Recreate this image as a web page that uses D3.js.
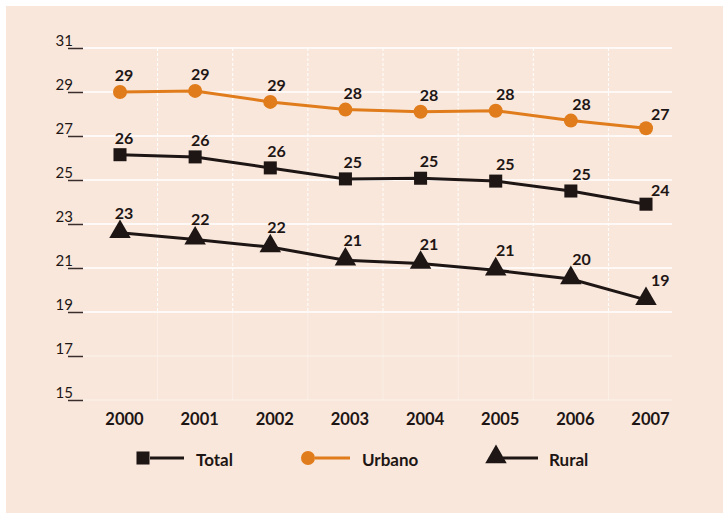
<!DOCTYPE html>
<html><head><meta charset="utf-8">
<script src="https://cdn.jsdelivr.net/npm/d3@7"></script>
<style>html,body{margin:0;padding:0;background:#fff;}svg{display:block;}</style>
</head><body>
<script>
const years = ["2000","2001","2002","2003","2004","2005","2006","2007"];
const urbano = [29.0, 29.05, 28.55, 28.2, 28.1, 28.15, 27.7, 27.35];
const total  = [26.15, 26.05, 25.55, 25.05, 25.08, 24.95, 24.5, 23.9];
const rural  = [22.6, 22.3, 21.95, 21.35, 21.2, 20.9, 20.5, 19.55];
const urbanoLabels = ["29","29","29","28","28","28","28","27"];
const totalLabels  = ["26","26","26","25","25","25","25","24"];
const ruralLabels  = ["23","22","22","21","21","21","20","19"];
const yTicks = [15,17,19,21,23,25,27,29,31];
const seriesNames = ["Total","Urbano","Rural"];

const W = 723, H = 513;
const bg = "#f9e7db", ink = "#1e1615", orange = "#e07c1b";
const font = "Lato, 'Open Sans', sans-serif";

const svg = d3.select("body").append("svg").attr("width", W).attr("height", H);
svg.append("rect").attr("x",6).attr("y",6).attr("width",W-6).attr("height",H-6).attr("fill",bg);

const x = d3.scalePoint().domain(years).range([120, 646]);
const y = d3.scaleLinear().domain([15,31]).range([400, 48]);
const gridL = 83, gridR = 672;
const step = x.step();

// horizontal gridlines
svg.append("g").selectAll("line").data(yTicks).join("line")
  .attr("x1", gridL).attr("x2", gridR)
  .attr("y1", d=>y(d)).attr("y2", d=>y(d))
  .attr("stroke", "#fff").attr("stroke-width", 1.5)
  .attr("opacity", d=> d>=19 ? 1 : 0.35);

// vertical dashed gridlines between categories
svg.append("g").selectAll("line").data(years.slice(1)).join("line")
  .attr("x1", d=>x(d)-step/2).attr("x2", d=>x(d)-step/2)
  .attr("y1", y(31)).attr("y2", y(19))
  .attr("stroke", "#fff").attr("stroke-width", 1).attr("stroke-dasharray","3,2");
svg.append("g").selectAll("line").data(years.slice(1)).join("line")
  .attr("x1", d=>x(d)-step/2).attr("x2", d=>x(d)-step/2)
  .attr("y1", y(19)).attr("y2", y(15))
  .attr("stroke", "#fff").attr("stroke-width", 1).attr("opacity",0.35);

// y axis ticks
const yAxis = d3.axisLeft(y).tickValues(yTicks).tickSize(0).tickFormat(d3.format("d"));
const ya = svg.append("g").attr("transform", `translate(${gridL},0)`).call(yAxis);
ya.select(".domain").remove();
ya.selectAll(".tick text").attr("x", -10).attr("dy", "-0.15em")
  .attr("font-family", font).attr("font-size", 15).attr("fill", ink).attr("text-anchor","end");
ya.selectAll(".tick").append("line").attr("x1",-15).attr("x2",0).attr("y1",0).attr("y2",0)
  .attr("stroke", "#3a2e2c").attr("stroke-width",1.5);

// x axis
const xAxis = d3.axisBottom(x).tickSize(0);
const xa = svg.append("g").attr("transform", `translate(4,${y(15)})`).call(xAxis);
xa.select(".domain").remove();
xa.selectAll(".tick text").attr("y", 13).attr("dy","0.71em")
  .attr("font-family", font).attr("font-size", 16.5).attr("font-weight","bold").attr("fill", ink);

const line = d3.line().x((d,i)=>x(years[i])).y(d=>y(d));

function drawSeries(vals, labels, color, shape) {
  const g = svg.append("g");
  const tri = shape===d3.symbolTriangle;
  g.append("path").datum(vals).attr("d", line).attr("fill","none")
    .attr("stroke", color).attr("stroke-width", 3);
  const sym = d3.symbol().type(shape).size(tri ? 200 : (shape===d3.symbolCircle?155:170));
  g.selectAll("path.m").data(vals).join("path").attr("class","m")
    .attr("d", sym)
    .attr("transform",(d,i)=>`translate(${x(years[i])},${y(d) + (tri? -1:0)})`)
    .attr("fill", color);
  const last = vals.length-1;
  g.selectAll("text").data(vals).join("text")
    .attr("x",(d,i)=>x(years[i]) + (i===last ? 5 : 4 + i*1.1))
    .attr("y",(d,i)=>y(d) - (tri ? 14 : (i===last ? 8 : 11)))
    .attr("text-anchor", (d,i)=> i===last ? "start":"middle")
    .attr("font-family", font).attr("font-size", 16).attr("font-weight","bold").attr("fill", ink)
    .text((d,i)=>labels[i]);
}
drawSeries(urbano, urbanoLabels, orange, d3.symbolCircle);
drawSeries(total, totalLabels, ink, d3.symbolSquare);
drawSeries(rural, ruralLabels, ink, d3.symbolTriangle);

// legend
const legend = [
  {name: seriesNames[0], color: ink, shape: d3.symbolSquare, size:170, mx:143, lx:[150,184], tx:196},
  {name: seriesNames[1], color: orange, shape: d3.symbolCircle, size:155, mx:308, lx:[315,350], tx:362},
  {name: seriesNames[2], color: ink, shape: d3.symbolTriangle, size:200, mx:496, lx:[503,538], tx:549}
];
const lg = svg.append("g");
const ly = 458;
legend.forEach(l=>{
  lg.append("line").attr("x1", l.lx[0]).attr("x2", l.lx[1]).attr("y1", ly).attr("y2", ly)
    .attr("stroke", l.color).attr("stroke-width", 3);
  lg.append("path").attr("d", d3.symbol().type(l.shape).size(l.size)())
    .attr("transform", `translate(${l.mx},${ly + (l.shape===d3.symbolTriangle? -1:0)})`).attr("fill", l.color);
  lg.append("text").attr("x", l.tx).attr("y", ly+8).attr("font-family", font)
    .attr("font-size", 17).attr("font-weight","bold").attr("fill", ink).text(l.name);
});
</script>
</body></html>
